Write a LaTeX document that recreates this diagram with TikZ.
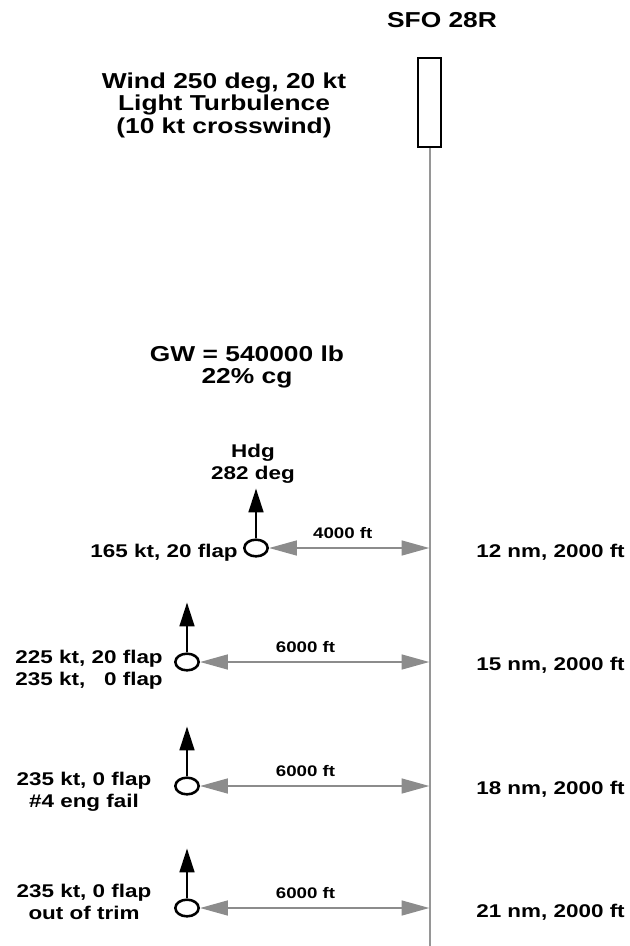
\documentclass[tikz,border=0pt]{standalone}
\usepackage{fontspec}
\setmainfont{Liberation Sans}[FakeStretch=1.22]
\usepackage{xcolor}
\usetikzlibrary{arrows.meta, positioning, shapes.geometric}
\definecolor{arrowgray}{HTML}{8C8C8C}
\definecolor{linegray}{HTML}{969696}

\begin{document}
\begin{tikzpicture}[
  x=0.75pt, y=-0.75pt,
  bigtxt/.style={font=\fontsize{16.2}{16.8}\selectfont\bfseries, align=center, inner sep=0pt},
  lbl/.style={font=\fontsize{13.8}{16.8}\selectfont\bfseries, inner sep=0pt},
  disttxt/.style={font=\fontsize{11.5}{12}\selectfont\bfseries, inner sep=0pt},
  plane/.style={draw, ellipse, line width=1.9pt, minimum width=17.5pt,
                minimum height=12.5pt, inner sep=0pt},
  rwybox/.style={draw, line width=1.5pt, minimum width=17pt, minimum height=67pt, inner sep=0pt},
  hdg/.style={-{Triangle[length=18pt, width=11pt]}, line width=2pt},
  sep/.style={{Triangle[length=21pt, width=11pt]}-{Triangle[length=21pt, width=11pt]},
              line width=2pt, draw=arrowgray},
  cline/.style={line width=1.5pt, draw=linegray}
]
  \useasboundingbox[fill=white] (0,0) rectangle (629,946);

  % runway
  \node[bigtxt, anchor=base] (rwyname) at (442,27) {SFO 28R};
  \node[rwybox] (rwy) at (429.5,102.5) {};
  \coordinate (rwyend) at (429.5,946);
  \draw[cline] (rwy.south) -- (rwyend);

  % conditions
  \node[bigtxt, anchor=north] (wind) at (224,72.5)
    {Wind 250 deg, 20 kt\\Light Turbulence\\(10 kt crosswind)};
  \node[bigtxt, anchor=north] (gw) at (247,345.5) {GW = 540000 lb\\22\% cg};
  \node[lbl, align=center, anchor=north] (hdgtxt) at (253,443.8) {Hdg\\282 deg};

  % aircraft positions
  \node[plane] (ac1) at (256,548) {};
  \node[plane] (ac2) at (187,662) {};
  \node[plane] (ac3) at (187,786) {};
  \node[plane] (ac4) at (187,908) {};

  \node[lbl, anchor=base east] (spd1) at (238,557) {165 kt, 20 flap};
  \node[lbl, align=right, anchor=north east] (spd2) at (163,649.5)
    {225 kt, 20 flap\\235 kt, \phantom{2}0 flap};
  \node[lbl, align=center, anchor=north] (spd3) at (84,771.8) {235 kt, 0 flap\\\#4 eng fail};
  \node[lbl, align=center, anchor=north] (spd4) at (84,883.8) {235 kt, 0 flap\\out of trim};

  \node[lbl, anchor=base west] (rng1) at (476,557) {12 nm, 2000 ft};
  \node[lbl, anchor=base west] (rng2) at (476,670) {15 nm, 2000 ft};
  \node[lbl, anchor=base west] (rng3) at (476,794) {18 nm, 2000 ft};
  \node[lbl, anchor=base west] (rng4) at (476,917) {21 nm, 2000 ft};

  \draw[hdg] (ac1.north) -- ++(0,-50);
  \draw[hdg] (ac2.north) -- ++(0,-50);
  \draw[hdg] (ac3.north) -- ++(0,-50);
  \draw[hdg] (ac4.north) -- ++(0,-50);

  \draw[sep] (ac1.east) -- (ac1 -| rwyend) node[disttxt, pos=0.46, above=6pt] {4000 ft};
  \draw[sep] (ac2.east) -- (ac2 -| rwyend) node[disttxt, pos=0.46, above=6pt] {6000 ft};
  \draw[sep] (ac3.east) -- (ac3 -| rwyend) node[disttxt, pos=0.46, above=6pt] {6000 ft};
  \draw[sep] (ac4.east) -- (ac4 -| rwyend) node[disttxt, pos=0.46, above=6pt] {6000 ft};
\end{tikzpicture}
\end{document}
